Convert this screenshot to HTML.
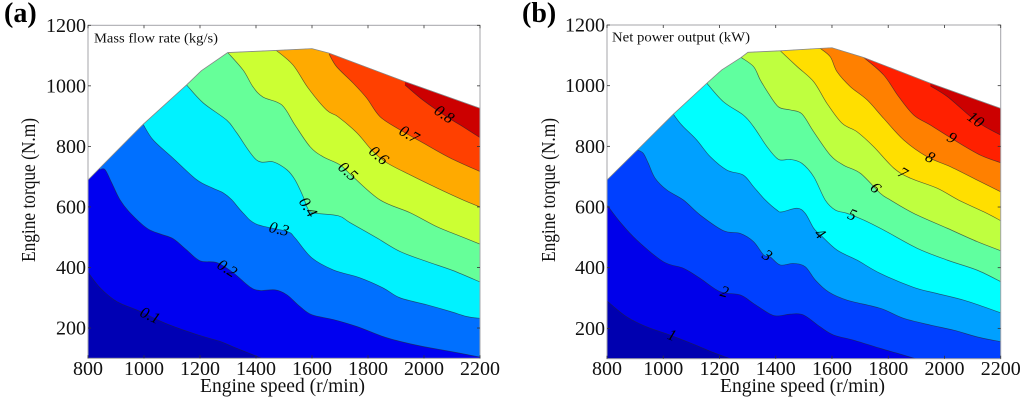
<!DOCTYPE html>
<html lang="en">
<head>
<meta charset="utf-8">
<title>Engine maps: mass flow rate and net power output</title>
<style>
html,body{margin:0;padding:0;background:#fff;}
svg{display:block;filter:blur(0.3px);}
text{font-family:"Liberation Serif",serif;fill:#111;}
.tick{font-size:20px;}
.axis{font-size:20px;}
.panel{font-size:28px;font-weight:bold;fill:#000;}
.title{font-size:13.5px;}
.clabel{font-size:16px;font-style:italic;fill:#000;}
</style>
</head>
<body>
<svg id="figure" xmlns="http://www.w3.org/2000/svg" width="1024" height="402" viewBox="0 0 1024 402">
  <defs id="clip-defs"></defs>
  <g id="panel-a">
    <g id="plot-a"></g>
    <text class="panel" x="4" y="22">(a)</text>
    <text class="title" x="94" y="42.5" textLength="124" lengthAdjust="spacingAndGlyphs">Mass flow rate (kg/s)</text>
    <text class="axis" x="200" y="392" textLength="165" lengthAdjust="spacingAndGlyphs">Engine speed (r/min)</text>
    <text class="axis" transform="translate(35,262) rotate(-90)" textLength="144" lengthAdjust="spacingAndGlyphs">Engine torque (N.m)</text>
  </g>
  <g id="panel-b">
    <g id="plot-b"></g>
    <text class="panel" x="522" y="22">(b)</text>
    <text class="title" x="612" y="41.5" textLength="138" lengthAdjust="spacingAndGlyphs">Net power output (kW)</text>
    <text class="axis" x="720" y="392" textLength="165" lengthAdjust="spacingAndGlyphs">Engine speed (r/min)</text>
    <text class="axis" transform="translate(555,262) rotate(-90)" textLength="144" lengthAdjust="spacingAndGlyphs">Engine torque (N.m)</text>
  </g>
</svg>
<script>
const speedTicks = [800, 1000, 1200, 1400, 1600, 1800, 2000, 2200];
const torqueTicks = [200, 400, 600, 800, 1000, 1200];

/* Panel (a): mass flow rate, kg/s */
const levelsA = ["0.1", "0.2", "0.3", "0.4", "0.5", "0.6", "0.7", "0.8"];
const labelSpeedsA = [1021, 1296, 1482, 1584, 1727, 1837, 1946, 2071];
const envelopeA = [[800,689],[997,873],[1152,1003],[1205,1050],[1299,1110],[1471,1117],[1600,1123],[1661,1108],[1932,1014],[2200,926]];
const contourA1 = [[800,384],[843,333],[902,288],[986,255],[1081,214],[1200,175],[1271,156],[1318,138],[1420,100]];
const contourA2 = [[843,723],[861,723],[885,679],[914,624],[950,581],[1010,530],[1057,511],[1104,495],[1152,458],[1200,422],[1260,416],[1318,383],[1378,336],[1414,324],[1468,326],[1510,310],[1557,271],[1599,244],[1676,228],[1760,205],[1853,172],[1914,156],[1996,139],[2093,123],[2200,104]];
const contourA3 = [[997,873],[1033,821],[1104,761],[1188,690],[1246,662],[1282,647],[1313,624],[1353,581],[1402,543],[1510,519],[1539,498],[1599,432],[1676,392],[1771,366],[1853,333],[1914,300],[2009,277],[2093,255],[2152,238],[2200,232]];
const contourA4 = [[1152,1003],[1211,944],[1295,887],[1331,845],[1402,755],[1461,749],[1510,723],[1539,690],[1568,635],[1582,600],[1603,581],[1693,571],[1736,548],[1831,498],[1914,453],[2009,420],[2103,390],[2200,352]];
const contourA5 = [[1299,1110],[1354,1052],[1389,997],[1425,963],[1492,937],[1539,871],[1593,799],[1639,766],[1700,739],[1746,700],[1843,623],[1950,581],[2045,535],[2117,508],[2200,477]];
const contourA6 = [[1471,1118],[1532,1069],[1586,993],[1652,920],[1693,898],[1760,845],[1818,783],[1867,746],[1950,706],[2045,663],[2139,623],[2200,600]];
const contourA7 = [[1661,1105],[1688,1063],[1746,1010],[1795,960],[1843,898],[1914,855],[1996,812],[2093,762],[2200,717]];
const contourA8 = [[1932,1003],[1996,953],[2081,898],[2139,865],[2200,829]];
const contoursA = [contourA1, contourA2, contourA3, contourA4, contourA5, contourA6, contourA7, contourA8];
const bandColorsA = ["#0000b4", "#0000f0", "#0070ff", "#00f2ff", "#66ff99", "#ccff33", "#ffaa00", "#ff4000", "#cc0000"];

/* Panel (b): net power output, kW */
const levelsB = ["1", "2", "3", "4", "5", "6", "7", "8", "9", "10"];
const labelSpeedsB = [1030, 1217, 1369, 1556, 1671, 1754, 1851, 1948, 2025, 2110];
const envelopeB = [[800,689],[908,788],[1036,906],[1155,1008],[1208,1052],[1277,1093],[1301,1110],[1416,1115],[1558,1123],[1600,1125],[1713,1093],[1950,1008],[2200,925]];
const contourB1 = [[800,290],[870,238],[941,205],[1024,178],[1107,148],[1179,120],[1238,100]];
const contourB2 = [[800,607],[846,551],[906,491],[1000,420],[1072,398],[1131,365],[1202,321],[1274,310],[1321,282],[1380,247],[1410,241],[1452,247],[1499,244],[1558,205],[1606,178],[1677,161],[1772,134],[1832,118],[1897,100]];
const contourB3 = [[908,788],[929,777],[947,744],[971,695],[1013,656],[1072,623],[1131,574],[1214,522],[1274,513],[1321,486],[1357,442],[1380,436],[1416,409],[1463,414],[1505,403],[1541,359],[1588,320],[1654,293],[1772,266],[1855,233],[1950,211],[2033,194],[2116,172],[2200,156]];
const contourB4 = [[1036,906],[1066,870],[1119,821],[1167,766],[1226,722],[1285,705],[1321,667],[1363,623],[1404,590],[1422,584],[1476,596],[1505,579],[1535,530],[1559,508],[1618,458],[1689,425],[1772,381],[1891,335],[1974,315],[2069,293],[2140,271],[2200,251]];
const contourB5 = [[1155,1008],[1214,947],[1285,903],[1321,865],[1369,799],[1410,757],[1452,757],[1493,744],[1535,700],[1576,623],[1612,590],[1654,579],[1713,557],[1784,524],[1903,464],[2010,425],[2116,392],[2200,354]];
const contourB6 = [[1277,1093],[1321,1063],[1345,1019],[1374,975],[1410,930],[1452,920],[1493,907],[1535,848],[1594,771],[1641,738],[1701,711],[1772,645],[1808,623],[1891,579],[2010,530],[2116,486],[2200,456]];
const contourB7 = [[1416,1115],[1476,1063],[1535,1013],[1582,942],[1636,876],[1689,848],[1748,799],[1820,728],[1879,695],[1974,662],[2050,623],[2140,584],[2200,555]];
const contourB8 = [[1558,1123],[1594,1095],[1618,1046],[1665,997],[1725,953],[1784,892],[1855,821],[1938,766],[2021,733],[2116,689],[2200,650]];
const contourB9 = [[1713,1093],[1784,1035],[1837,964],[1891,903],[1950,870],[2045,815],[2128,771],[2200,746]];
const contourB10 = [[1950,999],[2010,964],[2093,898],[2140,867],[2200,837]];
const contoursB = [contourB1, contourB2, contourB3, contourB4, contourB5, contourB6, contourB7, contourB8, contourB9, contourB10];
const bandColorsB = ["#0000b0", "#0000ea", "#0040ff", "#00a0ff", "#00ffff", "#60ff9f", "#bfff3f", "#ffdf00", "#ff8000", "#ff2000", "#cc0000"];

const SVG_NS = "http://www.w3.org/2000/svg";

function make(tag, parent) {
  const el = document.createElementNS(SVG_NS, tag);
  parent.appendChild(el);
  return el;
}

function smoothSegment(pts) {
  let d = "";
  for (let i = 0; i < pts.length - 1; i++) {
    const p0 = pts[Math.max(i - 1, 0)];
    const p1 = pts[i];
    const p2 = pts[i + 1];
    const p3 = pts[Math.min(i + 2, pts.length - 1)];
    const c1x = p1[0] + (p2[0] - p0[0]) / 6;
    const c1y = p1[1] + (p2[1] - p0[1]) / 6;
    const c2x = p2[0] - (p3[0] - p1[0]) / 6;
    const c2y = p2[1] - (p3[1] - p1[1]) / 6;
    d += "C" + c1x.toFixed(2) + " " + c1y.toFixed(2) + " " + c2x.toFixed(2) + " " + c2y.toFixed(2) + " " + p2[0].toFixed(2) + " " + p2[1].toFixed(2);
  }
  return d;
}

function torqueAt(contour, speed) {
  for (let i = 0; i < contour.length - 1; i++) {
    const a = contour[i];
    const b = contour[i + 1];
    if (speed >= a[0] && speed <= b[0]) {
      return a[1] + (b[1] - a[1]) * (speed - a[0]) / (b[0] - a[0]);
    }
  }
  return contour[contour.length - 1][1];
}

function drawPanel(cfg) {
  const plot = document.getElementById(cfg.plotId);
  const defs = document.getElementById("clip-defs");
  const xScale = function (s) { return cfg.left + (s - 800) * (cfg.right - cfg.left) / 1400; };
  const yScale = function (t) { return cfg.top + (1200 - t) * (cfg.bottom - cfg.top) / 1100; };
  const toPx = function (p) { return [xScale(p[0]), yScale(p[1])]; };

  const envelopePx = cfg.envelope.map(toPx);
  const closedEnvelope = "M" + xScale(800) + " " + yScale(100) + "L" +
    envelopePx.map(function (p) { return p[0].toFixed(2) + " " + p[1].toFixed(2); }).join("L") +
    "L" + xScale(2200) + " " + yScale(100) + "Z";

  const clip = make("clipPath", defs);
  clip.setAttribute("id", cfg.plotId + "-clip");
  const clipShape = make("path", clip);
  clipShape.setAttribute("d", closedEnvelope);

  const bands = make("g", plot);
  bands.setAttribute("clip-path", "url(#" + cfg.plotId + "-clip)");
  
  

  const base = make("rect", bands);
  
  
  base.setAttribute("x", cfg.left);
  base.setAttribute("y", cfg.top);
  base.setAttribute("width", cfg.right - cfg.left);
  base.setAttribute("height", cfg.bottom - cfg.top);
  base.setAttribute("fill", cfg.colors[0]);

  cfg.contours.forEach(function (contour, i) {
    const pts = contour.map(toPx);
    const lineD = "M" + pts[0][0].toFixed(2) + " " + pts[0][1].toFixed(2) + smoothSegment(pts);
    const band = make("path", bands);
    
    
    band.setAttribute("d", lineD + "L" + xScale(2200) + " " + yScale(100) + "L" + xScale(2200) + " " + yScale(1200) + "L" + pts[0][0].toFixed(2) + " " + yScale(1200) + "Z");
    band.setAttribute("fill", cfg.colors[i + 1]);
  });

  cfg.contours.forEach(function (contour) {
    const pts = contour.map(toPx);
    const line = make("path", bands);
    
    
    line.setAttribute("d", "M" + pts[0][0].toFixed(2) + " " + pts[0][1].toFixed(2) + smoothSegment(pts));
    line.setAttribute("fill", "none");
    line.setAttribute("stroke", "#223");
    line.setAttribute("stroke-opacity", "0.65");
    line.setAttribute("stroke-width", "0.7");
  });

  const edge = make("polyline", plot);
  
  
  edge.setAttribute("points", envelopePx.map(function (p) { return p[0].toFixed(2) + "," + p[1].toFixed(2); }).join(" "));
  edge.setAttribute("fill", "none");
  edge.setAttribute("stroke", "#888");
  edge.setAttribute("stroke-width", "0.8");

  const frame = make("rect", plot);
  
  
  frame.setAttribute("x", cfg.left);
  frame.setAttribute("y", cfg.top);
  frame.setAttribute("width", cfg.right - cfg.left);
  frame.setAttribute("height", cfg.bottom - cfg.top);
  frame.setAttribute("fill", "none");
  frame.setAttribute("stroke", "#a4a4a8");
  frame.setAttribute("stroke-width", "1");

  speedTicks.forEach(function (s) {
    [[cfg.top, 3], [cfg.bottom, -3]].forEach(function (spec) {
      const tick = make("line", plot);
      
      
      tick.setAttribute("x1", xScale(s));
      tick.setAttribute("x2", xScale(s));
      tick.setAttribute("y1", spec[0]);
      tick.setAttribute("y2", spec[0] + spec[1]);
      tick.setAttribute("stroke", "#333");
      tick.setAttribute("stroke-width", "0.8");
    });
    const label = make("text", plot);
    
    
    label.setAttribute("class", "tick");
    label.setAttribute("x", xScale(s));
    label.setAttribute("y", 375);
    label.setAttribute("text-anchor", "middle");
    label.textContent = String(s);
  });

  torqueTicks.forEach(function (t) {
    [[cfg.left, 3], [cfg.right, -3]].forEach(function (spec) {
      const tick = make("line", plot);
      
      
      tick.setAttribute("x1", spec[0]);
      tick.setAttribute("x2", spec[0] + spec[1]);
      tick.setAttribute("y1", yScale(t));
      tick.setAttribute("y2", yScale(t));
      tick.setAttribute("stroke", "#333");
      tick.setAttribute("stroke-width", "0.8");
    });
    const label = make("text", plot);
    
    
    label.setAttribute("class", "tick");
    label.setAttribute("x", cfg.left - 2);
    label.setAttribute("y", yScale(t) + 6.5);
    label.setAttribute("text-anchor", "end");
    label.textContent = String(t);
  });

  cfg.contours.forEach(function (contour, i) {
    const s = cfg.labelSpeeds[i];
    const px = xScale(s);
    const py = yScale(torqueAt(contour, s));
    const ax = xScale(s - 25);
    const ay = yScale(torqueAt(contour, s - 25));
    const bx = xScale(s + 25);
    const by = yScale(torqueAt(contour, s + 25));
    const angle = Math.atan2(by - ay, bx - ax) * 180 / Math.PI;
    const label = make("text", plot);
    
    
    label.setAttribute("class", "clabel");
    label.setAttribute("text-anchor", "middle");
    label.setAttribute("transform", "translate(" + px.toFixed(2) + "," + py.toFixed(2) + ") rotate(" + angle.toFixed(1) + ") translate(0,4.5)");
    label.textContent = cfg.levels[i];
  });
}

drawPanel({
  plotId: "plot-a", left: 88, right: 480, top: 25.3, bottom: 358.3,
  envelope: envelopeA, contours: contoursA, colors: bandColorsA,
  levels: levelsA, labelSpeeds: labelSpeedsA
});
drawPanel({
  plotId: "plot-b", left: 607, right: 1000.7, top: 25, bottom: 358.7,
  envelope: envelopeB, contours: contoursB, colors: bandColorsB,
  levels: levelsB, labelSpeeds: labelSpeedsB
});
</script>
</body>
</html>
